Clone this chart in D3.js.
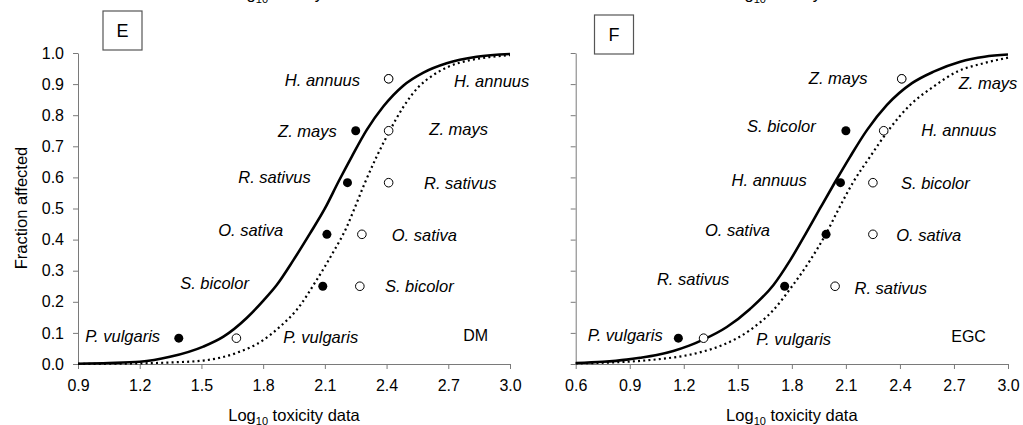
<!DOCTYPE html>
<html>
<head>
<meta charset="utf-8">
<script src="https://cdn.jsdelivr.net/npm/d3@7"></script>
<style>
  html, body { margin: 0; padding: 0; background: #fff; }
  svg { display: block; font-family: "Liberation Sans", Arial, sans-serif; }
</style>
</head>
<body>
<svg id="chart" width="1023" height="425"></svg>
<script>
// ---------- data ----------
// plotting positions (fraction affected) for the six species, ranked
const fractions = [0.083, 0.25, 0.417, 0.583, 0.75, 0.917];

// Panel E (DM): species in rank order, log10 toxicity values
const dmFilledSpecies = ["P. vulgaris", "S. bicolor", "O. sativa", "R. sativus", "Z. mays", "H. annuus"];
const dmFilledValues  = [1.39, 2.09, 2.11, 2.21, 2.25, 2.41];
const dmOpenSpecies   = ["P. vulgaris", "S. bicolor", "O. sativa", "R. sativus", "Z. mays", "H. annuus"];
const dmOpenValues    = [1.67, 2.27, 2.28, 2.41, 2.41, 2.41];

// Panel F (EGC)
const egcFilledSpecies = ["P. vulgaris", "R. sativus", "O. sativa", "H. annuus", "S. bicolor", "Z. mays"];
const egcFilledValues  = [1.17, 1.76, 1.99, 2.07, 2.10, 2.41];
const egcOpenSpecies   = ["P. vulgaris", "R. sativus", "O. sativa", "S. bicolor", "H. annuus", "Z. mays"];
const egcOpenValues    = [1.31, 2.04, 2.25, 2.25, 2.31, 2.41];

// fitted distribution curves, [log10 toxicity, fraction affected]
const dmFilledCurve = [[0.9,0.001],[1.05,0.003],[1.2,0.007],[1.347,0.023],[1.509,0.056],[1.607,0.088],
  [1.72,0.148],[1.801,0.204],[1.866,0.254],[1.947,0.334],[2.028,0.420],[2.101,0.501],[2.166,0.586],
  [2.231,0.667],[2.303,0.752],[2.384,0.828],[2.481,0.895],[2.579,0.937],[2.692,0.967],[2.838,0.988],[3.0,0.997]];
const dmOpenCurve = [[0.9,0.0003],[1.2,0.002],[1.35,0.005],[1.509,0.011],[1.672,0.036],[1.801,0.077],
  [1.882,0.120],[1.963,0.174],[2.06,0.270],[2.141,0.360],[2.206,0.440],[2.247,0.505],[2.295,0.583],
  [2.352,0.667],[2.417,0.752],[2.481,0.826],[2.554,0.890],[2.627,0.929],[2.708,0.958],[2.806,0.977],
  [2.9,0.987],[3.0,0.993]];
const egcFilledCurve = [[0.6,0.003],[0.75,0.007],[0.883,0.014],[0.957,0.020],[1.05,0.029],[1.142,0.042],
  [1.23,0.059],[1.314,0.080],[1.439,0.119],[1.568,0.177],[1.698,0.254],[1.791,0.334],[1.878,0.420],
  [1.957,0.501],[2.041,0.586],[2.124,0.667],[2.217,0.752],[2.328,0.833],[2.467,0.903],[2.587,0.940],
  [2.735,0.972],[2.87,0.988],[3.0,0.995]];
const egcOpenCurve = [[0.6,0.002],[0.8,0.005],[0.957,0.010],[1.1,0.018],[1.2,0.026],[1.3,0.039],
  [1.42,0.062],[1.568,0.109],[1.698,0.174],[1.8,0.249],[1.902,0.334],[1.991,0.420],[2.062,0.501],
  [2.142,0.586],[2.235,0.667],[2.337,0.752],[2.457,0.833],[2.587,0.892],[2.717,0.940],[2.864,0.967],[3.0,0.985]];

// axis ticks
const xTicksE = [0.9, 1.2, 1.5, 1.8, 2.1, 2.4, 2.7, 3.0];
const xTicksF = [0.6, 0.9, 1.2, 1.5, 1.8, 2.1, 2.4, 2.7, 3.0];
const yTicks  = [0, 0.1, 0.2, 0.3, 0.4, 0.5, 0.6, 0.7, 0.8, 0.9, 1.0];

// ---------- layout ----------
// species label anchors in data units: left labels end at x, right labels start at x
const dmLeftLabelPos   = [[1.299,0.088],[1.731,0.259],[1.898,0.431],[2.031,0.602],[2.158,0.749],[2.271,0.913]];
const dmRightLabelPos  = [[1.898,0.086],[2.392,0.249],[2.425,0.415],[2.582,0.581],[2.608,0.756],[2.728,0.908]];
const egcLeftLabelPos  = [[1.083,0.093],[1.453,0.272],[1.679,0.431],[1.883,0.592],[1.933,0.765],[2.220,0.918]];
const egcRightLabelPos = [[1.602,0.079],[2.148,0.245],[2.379,0.415],[2.406,0.581],[2.518,0.752],[2.726,0.902]];

const panels = [
  {
    letter: "E", tag: "DM", tagPos: [2.773, 0.093],
    domain: [0.9, 3.0], range: [78, 510], xTicks: xTicksE, yLabels: true,
    box: [103, 11],
    filled: dmFilledValues, open: dmOpenValues,
    filledNames: dmFilledSpecies, openNames: dmOpenSpecies,
    leftPos: dmLeftLabelPos, rightPos: dmRightLabelPos,
    solid: dmFilledCurve, dotted: dmOpenCurve
  },
  {
    letter: "F", tag: "EGC", tagPos: [2.685, 0.090],
    domain: [0.6, 3.0], range: [575.7, 1008], xTicks: xTicksF, yLabels: false,
    box: [594.5, 15],
    filled: egcFilledValues, open: egcOpenValues,
    filledNames: egcFilledSpecies, openNames: egcOpenSpecies,
    leftPos: egcLeftLabelPos, rightPos: egcRightLabelPos,
    solid: egcFilledCurve, dotted: egcOpenCurve
  }
];

const svg = d3.select("#chart");
const yTop = 53, yBottom = 364;
const axisColor = "#7a7a7a";
const labelSize = "16.5px";

function axisTitle(sel, x, y) {
  const t = sel.append("text").attr("x", x).attr("y", y)
    .attr("text-anchor", "middle").style("font-size", "16.5px").attr("fill", "#000");
  t.append("tspan").text("Log");
  t.append("tspan").attr("dy", 4).style("font-size", "11px").text("10");
  t.append("tspan").attr("dy", -4).text(" toxicity data");
  return t;
}

panels.forEach(p => {
  const x = d3.scaleLinear().domain(p.domain).range(p.range);
  const y = d3.scaleLinear().domain([0, 1]).range([yBottom, yTop]);
  const g = svg.append("g");
  const cx = (p.range[0] + p.range[1]) / 2;

  // axis title of the row above, running off the top edge
  axisTitle(g, cx, -1.5);

  // x axis
  const xAxis = g.append("g").attr("transform", `translate(0,${yBottom})`)
    .call(d3.axisBottom(x).tickValues(p.xTicks).tickFormat(d3.format(".1f"))
      .tickSizeInner(5).tickSizeOuter(0).tickPadding(11));
  xAxis.select(".domain").attr("stroke", axisColor);
  xAxis.selectAll(".tick line").attr("stroke", axisColor);
  xAxis.selectAll(".tick text").attr("fill", "#000").style("font-size", "16px")
    .style("font-family", "'Liberation Sans', Arial, sans-serif");

  // y axis
  const yAxis = g.append("g").attr("transform", `translate(${p.range[0]},0)`)
    .call(d3.axisLeft(y).tickValues(yTicks).tickFormat(p.yLabels ? d3.format(".1f") : "")
      .tickSizeInner(5).tickSizeOuter(0).tickPadding(9));
  yAxis.select(".domain").attr("stroke", axisColor);
  yAxis.selectAll(".tick line").attr("stroke", axisColor);
  yAxis.selectAll(".tick text").attr("fill", "#000").style("font-size", "16px")
    .style("font-family", "'Liberation Sans', Arial, sans-serif");

  axisTitle(g, cx, 420.5);

  if (p.yLabels) {
    g.append("text").attr("transform", `translate(27,208) rotate(-90)`)
      .attr("text-anchor", "middle").style("font-size", "16.5px").attr("fill", "#000")
      .text("Fraction affected");
  }

  // fitted curves
  const line = d3.line().x(d => x(d[0])).y(d => y(d[1])).curve(d3.curveMonotoneX);
  g.append("path").datum(p.solid).attr("d", line)
    .attr("fill", "none").attr("stroke", "#000").attr("stroke-width", 2.6);
  g.append("path").datum(p.dotted).attr("d", line)
    .attr("fill", "none").attr("stroke", "#000").attr("stroke-width", 2.2)
    .attr("stroke-dasharray", "2,3.2");

  // points
  g.selectAll(".filled").data(p.filled.map((v, i) => [v, fractions[i]])).join("circle")
    .attr("cx", d => x(d[0])).attr("cy", d => y(d[1])).attr("r", 4.5).attr("fill", "#000");
  g.selectAll(".open").data(p.open.map((v, i) => [v, fractions[i]])).join("circle")
    .attr("class", "open")
    .attr("cx", d => x(d[0])).attr("cy", d => y(d[1])).attr("r", 4.3)
    .attr("fill", "#fff").attr("stroke", "#000").attr("stroke-width", 1);

  // species labels
  g.selectAll(".lab-l").data(p.filledNames).join("text")
    .attr("x", (d, i) => x(p.leftPos[i][0])).attr("y", (d, i) => y(p.leftPos[i][1]))
    .attr("dy", "0.35em").attr("text-anchor", "end")
    .style("font-size", labelSize).style("font-style", "italic").attr("fill", "#000").text(d => d);
  g.selectAll(".lab-r").data(p.openNames).join("text")
    .attr("x", (d, i) => x(p.rightPos[i][0])).attr("y", (d, i) => y(p.rightPos[i][1]))
    .attr("dy", "0.35em").attr("text-anchor", "start")
    .style("font-size", labelSize).style("font-style", "italic").attr("fill", "#000").text(d => d);

  // endpoint tag
  g.append("text").attr("x", x(p.tagPos[0])).attr("y", y(p.tagPos[1])).attr("dy", "0.35em")
    .style("font-size", "16px").attr("fill", "#000").text(p.tag);

  // panel letter box
  g.append("rect").attr("x", p.box[0]).attr("y", p.box[1]).attr("width", 39).attr("height", 39)
    .attr("fill", "#fff").attr("stroke", "#555").attr("stroke-width", 1.2);
  g.append("text").attr("x", p.box[0] + 19.5).attr("y", p.box[1] + 19.5).attr("dy", "0.36em")
    .attr("text-anchor", "middle").style("font-size", "18px").attr("fill", "#000").text(p.letter);
});
</script>
</body>
</html>
